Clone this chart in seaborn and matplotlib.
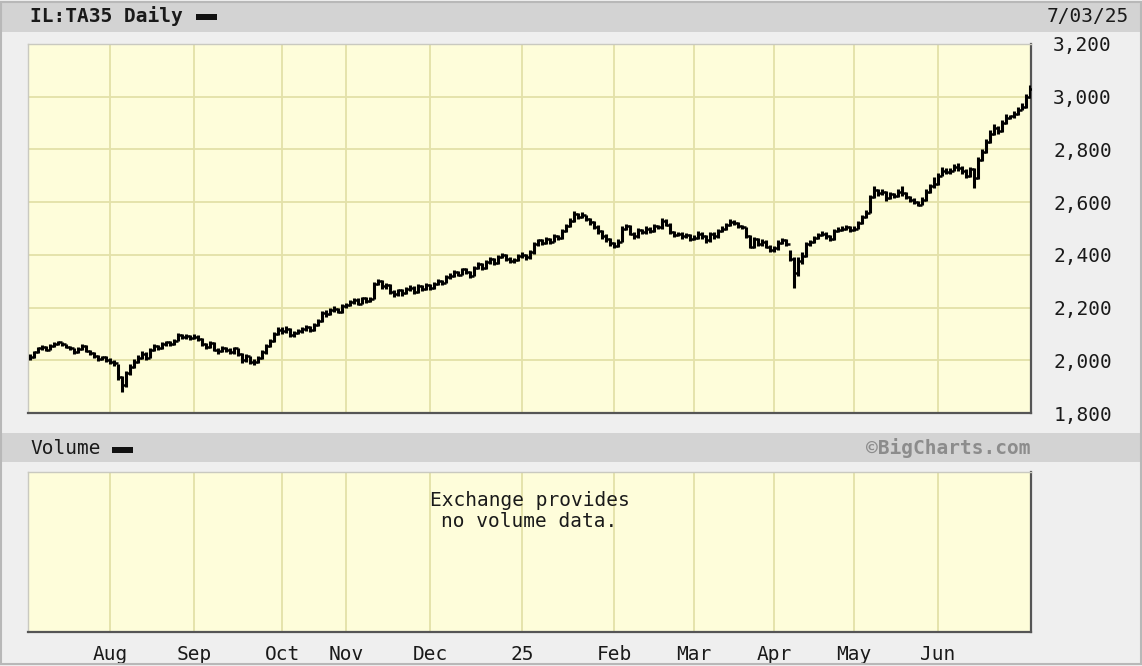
import numpy as np
import pandas as pd
import matplotlib
matplotlib.use("Agg")
import matplotlib.pyplot as plt
from matplotlib.patches import Rectangle
from matplotlib.path import Path
from matplotlib.ticker import FixedLocator, FuncFormatter
import seaborn as sns

# ---------------- data (TA35 daily, Jul 2024 - Jul 3 2025) ----------------
months = ["Jul", "Aug", "Sep", "Oct", "Nov", "Dec", "25", "Feb", "Mar", "Apr", "May", "Jun"]

close_jul = [2012, 2030, 2045, 2050, 2040, 2055, 2062, 2068, 2060, 2052, 2045, 2030, 2042, 2055, 2035, 2028, 2015, 2005, 2012, 2000]
high_jul = [2022, 2036, 2052, 2058, 2054, 2060, 2068, 2075, 2070, 2062, 2055, 2048, 2050, 2062, 2058, 2040, 2030, 2020, 2018, 2015]
low_jul = [2002, 2010, 2028, 2040, 2035, 2038, 2050, 2058, 2055, 2045, 2040, 2025, 2028, 2040, 2030, 2020, 2010, 1998, 2000, 1992]

close_aug = [1995, 1990, 1935, 1905, 1950, 1975, 1995, 2010, 2025, 2010, 2040, 2055, 2045, 2060, 2068, 2062, 2075, 2095, 2088, 2092, 2085]
high_aug = [2008, 2002, 1985, 1940, 1960, 1985, 2005, 2020, 2035, 2030, 2048, 2062, 2058, 2068, 2075, 2072, 2082, 2102, 2098, 2100, 2095]
low_aug = [1985, 1978, 1925, 1878, 1900, 1945, 1970, 1990, 2005, 2000, 2008, 2035, 2038, 2042, 2055, 2055, 2058, 2075, 2080, 2082, 2078]

close_sep = [2090, 2080, 2060, 2050, 2065, 2040, 2035, 2048, 2040, 2030, 2045, 2025, 2000, 2015, 1995, 1992, 2010, 2030, 2055, 2075, 2100, 2115]
high_sep = [2098, 2095, 2085, 2065, 2072, 2068, 2048, 2055, 2052, 2045, 2052, 2048, 2028, 2022, 2018, 2005, 2018, 2038, 2062, 2082, 2108, 2125]
low_sep = [2080, 2072, 2055, 2042, 2045, 2035, 2025, 2030, 2032, 2022, 2025, 2018, 1990, 1995, 1985, 1982, 1988, 2005, 2025, 2050, 2070, 2095]

close_oct = [2110, 2120, 2095, 2105, 2110, 2120, 2125, 2115, 2135, 2150, 2180, 2175, 2190, 2195, 2185, 2205]
high_oct = [2125, 2130, 2122, 2112, 2118, 2128, 2135, 2130, 2142, 2158, 2188, 2190, 2198, 2205, 2200, 2212]
low_oct = [2100, 2105, 2088, 2090, 2098, 2105, 2112, 2108, 2110, 2130, 2145, 2165, 2170, 2182, 2178, 2180]

close_nov = [2210, 2220, 2230, 2215, 2235, 2225, 2232, 2290, 2300, 2280, 2285, 2260, 2250, 2265, 2255, 2270, 2275, 2260, 2280, 2270, 2285]
high_nov = [2218, 2228, 2238, 2235, 2242, 2240, 2240, 2298, 2310, 2305, 2295, 2290, 2265, 2272, 2270, 2278, 2285, 2280, 2288, 2285, 2292]
low_nov = [2198, 2205, 2215, 2208, 2212, 2218, 2220, 2232, 2285, 2272, 2272, 2252, 2240, 2245, 2245, 2250, 2262, 2252, 2255, 2262, 2265]

close_dec = [2275, 2290, 2300, 2295, 2315, 2320, 2335, 2325, 2345, 2335, 2320, 2350, 2365, 2350, 2372, 2385, 2370, 2392, 2400, 2385, 2375, 2380, 2395]
high_dec = [2290, 2298, 2308, 2305, 2322, 2330, 2342, 2340, 2352, 2350, 2340, 2358, 2372, 2368, 2380, 2392, 2388, 2398, 2408, 2402, 2390, 2388, 2402]
low_dec = [2265, 2270, 2285, 2285, 2292, 2308, 2315, 2318, 2322, 2328, 2312, 2318, 2345, 2342, 2345, 2365, 2362, 2365, 2388, 2378, 2368, 2370, 2375]

close_jan = [2400, 2390, 2410, 2440, 2455, 2445, 2460, 2450, 2470, 2465, 2490, 2510, 2530, 2555, 2545, 2550, 2535, 2525, 2505, 2490, 2470, 2460, 2445]
high_jan = [2410, 2405, 2418, 2448, 2462, 2460, 2468, 2465, 2478, 2475, 2498, 2518, 2540, 2565, 2560, 2562, 2552, 2540, 2530, 2512, 2495, 2478, 2465]
low_jan = [2388, 2380, 2385, 2405, 2435, 2438, 2440, 2442, 2448, 2458, 2460, 2485, 2505, 2525, 2535, 2538, 2528, 2515, 2498, 2480, 2462, 2450, 2435]

close_feb = [2435, 2450, 2500, 2510, 2480, 2470, 2495, 2485, 2500, 2490, 2510, 2505, 2530, 2515, 2485, 2475, 2480, 2470, 2475, 2460]
high_feb = [2448, 2460, 2508, 2518, 2515, 2485, 2502, 2500, 2508, 2505, 2518, 2515, 2538, 2535, 2520, 2490, 2488, 2485, 2482, 2478]
low_feb = [2425, 2430, 2448, 2495, 2475, 2462, 2465, 2478, 2480, 2482, 2488, 2498, 2500, 2508, 2480, 2468, 2470, 2462, 2465, 2452]

close_mar = [2465, 2480, 2470, 2455, 2480, 2470, 2490, 2500, 2515, 2525, 2520, 2510, 2505, 2470, 2430, 2460, 2440, 2450, 2430, 2420]
high_mar = [2475, 2490, 2485, 2475, 2488, 2485, 2498, 2508, 2522, 2535, 2532, 2525, 2515, 2505, 2475, 2468, 2465, 2462, 2455, 2438]
low_mar = [2455, 2460, 2462, 2445, 2450, 2462, 2465, 2488, 2495, 2510, 2512, 2502, 2498, 2465, 2425, 2425, 2435, 2435, 2425, 2410]

close_apr = [2425, 2445, 2455, 2440, 2385, 2330, 2375, 2395, 2440, 2450, 2465, 2475, 2480, 2470, 2460, 2490, 2495, 2500, 2505, 2495]
high_apr = [2435, 2455, 2465, 2460, 2420, 2390, 2392, 2410, 2448, 2458, 2472, 2482, 2490, 2485, 2475, 2498, 2505, 2508, 2512, 2508]
low_apr = [2412, 2420, 2440, 2432, 2375, 2275, 2320, 2365, 2392, 2435, 2445, 2460, 2470, 2462, 2452, 2455, 2485, 2490, 2495, 2488]

close_may = [2500, 2520, 2545, 2560, 2620, 2645, 2635, 2640, 2615, 2630, 2625, 2640, 2635, 2620, 2610, 2600, 2590, 2610, 2640, 2660, 2670]
high_may = [2510, 2528, 2552, 2572, 2628, 2662, 2650, 2648, 2642, 2638, 2635, 2648, 2660, 2640, 2625, 2615, 2605, 2618, 2648, 2668, 2695]
low_may = [2490, 2498, 2518, 2540, 2558, 2615, 2625, 2628, 2605, 2612, 2615, 2618, 2625, 2612, 2600, 2592, 2585, 2588, 2605, 2635, 2655]

close_jun = [2700, 2720, 2715, 2720, 2735, 2730, 2720, 2700, 2725, 2690, 2760, 2790, 2830, 2860, 2880, 2870, 2900, 2920, 2925, 2935, 2950, 2960, 3000, 3030]
high_jun = [2712, 2735, 2728, 2730, 2745, 2748, 2738, 2725, 2732, 2728, 2770, 2802, 2840, 2872, 2895, 2888, 2910, 2935, 2932, 2945, 2960, 2975, 3010, 3045]
low_jun = [2665, 2698, 2705, 2708, 2718, 2718, 2705, 2690, 2695, 2655, 2688, 2755, 2785, 2825, 2855, 2860, 2865, 2895, 2915, 2920, 2930, 2948, 2958, 2995]

y_ticks = [1800, 2000, 2200, 2400, 2600, 2800, 3000, 3200]
title_text = "IL:TA35 Daily"
date_text = "7/03/25"
volume_label = "Volume"
watermark = "\u00a9BigCharts.com"
no_volume_msg = "Exchange provides\nno volume data."

closes_by_month = [close_jul, close_aug, close_sep, close_oct, close_nov, close_dec,
                   close_jan, close_feb, close_mar, close_apr, close_may, close_jun]
highs_by_month = [high_jul, high_aug, high_sep, high_oct, high_nov, high_dec,
                  high_jan, high_feb, high_mar, high_apr, high_may, high_jun]
lows_by_month = [low_jul, low_aug, low_sep, low_oct, low_nov, low_dec,
                 low_jan, low_feb, low_mar, low_apr, low_may, low_jun]

close = np.concatenate(closes_by_month)
high = np.concatenate(highs_by_month)
low = np.concatenate(lows_by_month)
idx = np.arange(len(close))
df = pd.DataFrame({"day": idx, "close": close, "high": high, "low": low})

lengths = [len(m) for m in closes_by_month]
month_starts = np.cumsum([0] + lengths[:-1])
tick_pos = list(month_starts[1:])
tick_lab = months[1:]

# ---------------- styling ----------------
sns.set_theme(style="white")
plt.rcParams["font.family"] = ["DejaVu Sans Mono", "DejaVu Sans"]

FIG_BG = "#efefef"
BAND = "#d3d3d3"
FACE = "#fefdda"
GRID = "#e3e1a8"
TXT = "#1a1a1a"
W, H = 1142, 666

fig = plt.figure(figsize=(W / 100, H / 100), dpi=100, facecolor=FIG_BG)

def fx(px):
    return px / W

def fy(py):
    return 1 - py / H

# header bands
fig.patches.append(Rectangle((fx(2), fy(32)), fx(1140), 30 / H, transform=fig.transFigure,
                             facecolor=BAND, edgecolor="none", zorder=0))
fig.patches.append(Rectangle((fx(2), fy(462)), fx(1140), 29 / H, transform=fig.transFigure,
                             facecolor=BAND, edgecolor="none", zorder=0))
# outer frame
fig.patches.append(Rectangle((fx(1), fy(664)), fx(1140), 662 / H, transform=fig.transFigure,
                             facecolor="none", edgecolor="#b8b8b8", lw=1.5, zorder=0))
# legend dashes
fig.patches.append(Rectangle((fx(196), fy(19.5)), fx(21), 5.5 / H, transform=fig.transFigure,
                             facecolor="#111111", edgecolor="none", zorder=2))
fig.patches.append(Rectangle((fx(112), fy(452.5)), fx(21), 5.5 / H, transform=fig.transFigure,
                             facecolor="#111111", edgecolor="none", zorder=2))

fig.text(fx(30), fy(16.5), title_text, ha="left", va="center", fontsize=14,
         fontweight="bold", color=TXT)
fig.text(fx(1047), fy(16.5), date_text, ha="left", va="center", fontsize=14, color=TXT)
fig.text(fx(30), fy(449), volume_label, ha="left", va="center", fontsize=14, color=TXT)
fig.text(fx(1031), fy(448.5), watermark, ha="right", va="center", fontsize=14,
         fontweight="bold", color="#8c8c8c")

# ---------------- main price axes ----------------
ax = fig.add_axes([fx(28), fy(413), fx(1003), 369 / H])
ax.set_facecolor(FACE)
ax.set_xlim(-0.5, len(close) - 0.75)
ax.set_ylim(1800, 3200)
ax.xaxis.set_major_locator(FixedLocator(tick_pos))
ax.yaxis.set_major_locator(FixedLocator(y_ticks))
ax.grid(True, color=GRID, lw=1.3)
ax.set_axisbelow(True)
ax.tick_params(axis="x", length=0, labelbottom=False)
ax.yaxis.tick_right()
ax.tick_params(axis="y", length=0, pad=16, labelsize=14, labelcolor=TXT)
ax.yaxis.set_major_formatter(FuncFormatter(lambda v, p: f"{int(v):,}"))
for lab in ax.get_yticklabels():
    lab.set_horizontalalignment("left")

ax.vlines(df["day"], df["low"], df["high"], color="black", lw=2.2, zorder=3)
tick_marker = Path([(0, 0), (1, 0)], [Path.MOVETO, Path.LINETO])
sns.scatterplot(data=df, x="day", y="close", marker=tick_marker, s=34, color="black",
                edgecolor="black", linewidth=1.8, ax=ax, zorder=4, legend=False)
ax.set_xlabel("")
ax.set_ylabel("")

for side in ["left", "top"]:
    ax.spines[side].set_color("#c9c9c0")
    ax.spines[side].set_linewidth(1.0)
for side in ["bottom", "right"]:
    ax.spines[side].set_color("#555555")
    ax.spines[side].set_linewidth(1.6)

# ---------------- volume axes ----------------
av = fig.add_axes([fx(28), fy(632), fx(1003), 160 / H])
av.set_facecolor(FACE)
av.set_xlim(ax.get_xlim())
av.set_ylim(0, 1)
av.xaxis.set_major_locator(FixedLocator(tick_pos))
av.set_xticklabels(tick_lab)
av.yaxis.set_major_locator(FixedLocator([]))
av.grid(True, axis="x", color=GRID, lw=1.3)
av.tick_params(axis="x", length=0, pad=9, labelsize=14, labelcolor=TXT)
av.text(0.5, 0.755, no_volume_msg, transform=av.transAxes, ha="center", va="center",
        fontsize=14, color=TXT, linespacing=1.1)
for side in ["left", "top"]:
    av.spines[side].set_color("#c9c9c0")
    av.spines[side].set_linewidth(1.0)
for side in ["bottom", "right"]:
    av.spines[side].set_color("#555555")
    av.spines[side].set_linewidth(1.6)

fig.savefig("out.png", dpi=100, facecolor=FIG_BG)
